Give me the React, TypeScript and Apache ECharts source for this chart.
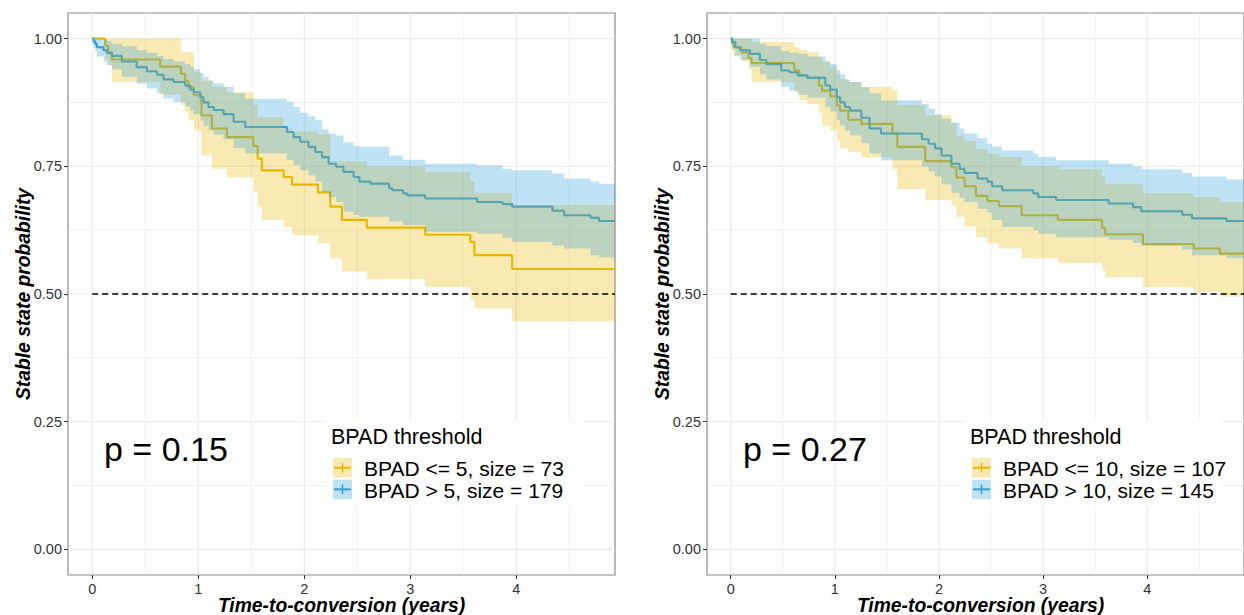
import React, { useEffect, useRef } from "react";
import * as echarts from "echarts";

// ---------- axis ranges / ticks ----------
const XMIN = -0.228;
const XMAX = 4.93;
const YMIN = -0.05;
const YMAX = 1.05;
const xTickValues = [0, 1, 2, 3, 4];
const xMinorValues = [0.5, 1.5, 2.5, 3.5, 4.5];
const yTickValues = [0, 0.25, 0.5, 0.75, 1];
const yMinorValues = [0.125, 0.375, 0.625, 0.875];

// ---------- LEFT PANEL: BPAD <= 5 (n = 73) ----------
const leftLowT = [0, 0.123, 0.15, 0.186, 0.642, 0.837, 0.877, 0.909, 0.96, 1.03, 1.129, 1.27, 1.52, 1.56, 1.6, 1.805, 1.884, 2.13, 2.245, 2.355, 2.59, 3.14, 3.566, 3.604, 3.96];
const leftLowS = [1.0, 0.986, 0.972, 0.959, 0.945, 0.931, 0.917, 0.904, 0.889, 0.85, 0.824, 0.807, 0.79, 0.765, 0.742, 0.729, 0.714, 0.699, 0.671, 0.645, 0.63, 0.616, 0.602, 0.576, 0.549];
const leftLowBandT = [0, 0.123, 0.15, 0.186, 0.642, 0.837, 0.877, 0.909, 0.96, 1.03, 1.129, 1.27, 1.52, 1.56, 1.6, 1.805, 1.884, 2.13, 2.245, 2.355, 2.59, 3.14, 3.566, 3.604, 3.96];
const leftLowBandLo = [1.0, 0.96, 0.947, 0.915, 0.89, 0.87, 0.855, 0.84, 0.82, 0.771, 0.745, 0.728, 0.7, 0.67, 0.645, 0.631, 0.615, 0.6, 0.57, 0.544, 0.529, 0.514, 0.49, 0.472, 0.446];
const leftLowBandHi = [1.0, 1.0, 1.0, 1.0, 1.0, 0.973, 0.973, 0.973, 0.934, 0.918, 0.906, 0.895, 0.87, 0.846, 0.846, 0.824, 0.818, 0.8125, 0.76, 0.76, 0.75, 0.739, 0.72, 0.698, 0.674];

// ---------- LEFT PANEL: BPAD > 5 (n = 179) ----------
const leftHighT = [0, 0.013, 0.03, 0.044, 0.107, 0.14, 0.186, 0.28, 0.42, 0.516, 0.61, 0.673, 0.767, 0.877, 0.925, 0.956, 1.019, 1.05, 1.097, 1.145, 1.239, 1.333, 1.443, 1.836, 1.9, 1.962, 2.04, 2.104, 2.167, 2.23, 2.3, 2.37, 2.465, 2.52, 2.625, 2.8, 2.83, 2.93, 2.97, 3.14, 3.63, 3.87, 3.96, 4.34, 4.45, 4.7, 4.78];
const leftHighS = [1.0, 0.994, 0.989, 0.983, 0.977, 0.972, 0.966, 0.955, 0.944, 0.936, 0.929, 0.92, 0.915, 0.908, 0.9, 0.895, 0.885, 0.875, 0.866, 0.86, 0.852, 0.837, 0.827, 0.817, 0.807, 0.798, 0.788, 0.778, 0.768, 0.755, 0.749, 0.739, 0.729, 0.72, 0.716, 0.707, 0.703, 0.697, 0.693, 0.687, 0.68, 0.676, 0.671, 0.663, 0.654, 0.649, 0.643];
const leftHighBandT = [0, 0.013, 0.03, 0.044, 0.107, 0.14, 0.186, 0.28, 0.42, 0.516, 0.61, 0.673, 0.767, 0.877, 0.925, 0.956, 1.019, 1.05, 1.097, 1.145, 1.239, 1.333, 1.443, 1.836, 1.9, 1.962, 2.04, 2.104, 2.167, 2.23, 2.3, 2.37, 2.465, 2.52, 2.8, 2.93, 3.14, 3.63, 3.87, 3.96, 4.34, 4.45, 4.7, 4.78];
const leftHighBandLo = [1.0, 0.982, 0.975, 0.965, 0.955, 0.948, 0.94, 0.925, 0.912, 0.902, 0.893, 0.882, 0.876, 0.867, 0.858, 0.852, 0.84, 0.829, 0.82, 0.812, 0.803, 0.786, 0.775, 0.763, 0.752, 0.742, 0.732, 0.72, 0.7, 0.69, 0.68, 0.661, 0.655, 0.651, 0.642, 0.635, 0.622, 0.618, 0.61, 0.602, 0.595, 0.589, 0.576, 0.572];
const leftHighBandHi = [1.0, 1.0, 1.0, 1.0, 0.998, 0.995, 0.99, 0.985, 0.977, 0.972, 0.966, 0.96, 0.955, 0.95, 0.945, 0.94, 0.932, 0.925, 0.918, 0.912, 0.905, 0.893, 0.882, 0.876, 0.866, 0.855, 0.848, 0.84, 0.822, 0.814, 0.81, 0.797, 0.79, 0.788, 0.771, 0.763, 0.755, 0.752, 0.745, 0.742, 0.736, 0.726, 0.72, 0.716];

// ---------- RIGHT PANEL: BPAD <= 10 (n = 107) ----------
const rightLowT = [0, 0.013, 0.028, 0.107, 0.17, 0.2, 0.61, 0.658, 0.736, 0.846, 0.877, 0.956, 1.019, 1.05, 1.129, 1.255, 1.554, 1.6, 1.868, 2.12, 2.167, 2.245, 2.355, 2.465, 2.575, 2.795, 3.142, 3.566, 3.597, 3.959, 4.446, 4.698];
const rightLowS = [1.0, 0.99, 0.983, 0.973, 0.962, 0.952, 0.9375, 0.928, 0.923, 0.908, 0.898, 0.887, 0.869, 0.859, 0.841, 0.833, 0.814, 0.788, 0.76, 0.748, 0.728, 0.711, 0.692, 0.682, 0.672, 0.654, 0.645, 0.63, 0.617, 0.598, 0.589, 0.579];
const rightLowBandT = [0, 0.013, 0.028, 0.107, 0.17, 0.2, 0.61, 0.658, 0.736, 0.846, 0.877, 0.956, 1.019, 1.05, 1.129, 1.255, 1.554, 1.6, 1.868, 2.12, 2.167, 2.245, 2.355, 2.465, 2.575, 2.795, 3.142, 3.566, 3.597, 3.959, 4.446, 4.698];
const rightLowBandLo = [1.0, 0.975, 0.965, 0.955, 0.94, 0.915, 0.895, 0.879, 0.872, 0.855, 0.83, 0.82, 0.8, 0.785, 0.778, 0.768, 0.745, 0.705, 0.684, 0.674, 0.651, 0.632, 0.611, 0.599, 0.589, 0.57, 0.561, 0.548, 0.533, 0.513, 0.504, 0.495];
const rightLowBandHi = [1.0, 1.0, 1.0, 1.0, 1.0, 0.993, 0.983, 0.978, 0.973, 0.965, 0.955, 0.944, 0.93, 0.921, 0.915, 0.905, 0.9, 0.87, 0.85, 0.835, 0.81, 0.8, 0.784, 0.775, 0.768, 0.75, 0.744, 0.73, 0.716, 0.697, 0.69, 0.68];

// ---------- RIGHT PANEL: BPAD > 10 (n = 145) ----------
const rightHighT = [0, 0.013, 0.044, 0.09, 0.186, 0.28, 0.343, 0.484, 0.563, 0.642, 0.736, 0.909, 0.956, 1.019, 1.05, 1.097, 1.145, 1.255, 1.333, 1.443, 1.836, 1.9, 1.962, 2.025, 2.12, 2.198, 2.245, 2.37, 2.465, 2.51, 2.607, 2.906, 2.953, 3.126, 3.63, 3.865, 3.943, 4.337, 4.431, 4.761];
const rightHighS = [1.0, 0.993, 0.983, 0.977, 0.97, 0.958, 0.95, 0.9375, 0.934, 0.928, 0.923, 0.908, 0.9, 0.885, 0.875, 0.866, 0.859, 0.845, 0.824, 0.814, 0.803, 0.794, 0.785, 0.771, 0.755, 0.745, 0.737, 0.726, 0.72, 0.711, 0.703, 0.697, 0.69, 0.684, 0.677, 0.67, 0.662, 0.655, 0.648, 0.643];
const rightHighBandT = rightHighT;
const rightHighBandLo = [1.0, 0.98, 0.967, 0.958, 0.945, 0.93, 0.92, 0.905, 0.898, 0.89, 0.884, 0.866, 0.857, 0.84, 0.83, 0.82, 0.81, 0.795, 0.775, 0.762, 0.75, 0.74, 0.73, 0.715, 0.698, 0.688, 0.68, 0.667, 0.66, 0.645, 0.631, 0.625, 0.618, 0.611, 0.606, 0.6, 0.594, 0.587, 0.576, 0.57];
const rightHighBandHi = [1.0, 1.0, 1.0, 1.0, 1.0, 0.99, 0.985, 0.975, 0.972, 0.97, 0.965, 0.955, 0.95, 0.938, 0.93, 0.92, 0.915, 0.905, 0.893, 0.879, 0.872, 0.862, 0.852, 0.843, 0.835, 0.824, 0.814, 0.805, 0.794, 0.788, 0.781, 0.775, 0.768, 0.762, 0.755, 0.75, 0.744, 0.737, 0.73, 0.724];

// ---------- texts ----------
const pTexts = ["p = 0.15", "p = 0.27"];
const legendTitle = "BPAD threshold";
const legendLabels = [
  ["BPAD <= 5, size = 73", "BPAD > 5, size = 179"],
  ["BPAD <= 10, size = 107", "BPAD > 10, size = 145"],
];
const xTitle = "Time-to-conversion (years)";
const yTitle = "Stable state probability";

// ---------- style ----------
const FONT = '"Liberation Sans", Arial, Helvetica, sans-serif';
const YELLOW = "#E7B800";
const BLUE = "#2E9FDF";
const YELLOW_FILL = "rgba(231,184,0,0.3)";
const BLUE_FILL = "rgba(46,159,223,0.3)";
const GRID_W = 547;
const GRID_H = 562;
const GRID_TOP = 13;
const PANEL_LEFTS = [68, 707];

function stepData(T: number[], S: number[]) {
  const d = T.map((t, i) => [t, S[i]]);
  d.push([XMAX, S[S.length - 1]]);
  return d;
}

function bandSeries(idx: number, T: number[], LO: number[], HI: number[], fill: string, z: number) {
  return {
    type: "custom",
    xAxisIndex: idx,
    yAxisIndex: idx,
    silent: true,
    z,
    data: [[T[0], HI[0]]],
    renderItem: (_p: any, api: any) => {
      const pts: number[][] = [];
      for (let i = 0; i < T.length; i++) {
        const t1 = i + 1 < T.length ? T[i + 1] : XMAX;
        pts.push(api.coord([T[i], HI[i]]));
        pts.push(api.coord([t1, HI[i]]));
      }
      for (let i = T.length - 1; i >= 0; i--) {
        const t1 = i + 1 < T.length ? T[i + 1] : XMAX;
        pts.push(api.coord([t1, LO[i]]));
        pts.push(api.coord([T[i], LO[i]]));
      }
      return { type: "polygon", shape: { points: pts }, style: { fill, stroke: "none" } };
    },
  };
}

function gridLineSeries(idx: number) {
  return {
    type: "custom",
    xAxisIndex: idx,
    yAxisIndex: idx,
    silent: true,
    z: 0,
    data: [[0, 0]],
    renderItem: (_p: any, api: any) => {
      const children: any[] = [];
      const vline = (v: number, w: number) => {
        const a = api.coord([v, YMIN]);
        const b = api.coord([v, YMAX]);
        children.push({ type: "line", shape: { x1: a[0], y1: a[1], x2: b[0], y2: b[1] }, style: { stroke: "#EBEBEB", lineWidth: w } });
      };
      const hline = (v: number, w: number) => {
        const a = api.coord([XMIN, v]);
        const b = api.coord([XMAX, v]);
        children.push({ type: "line", shape: { x1: a[0], y1: a[1], x2: b[0], y2: b[1] }, style: { stroke: "#EBEBEB", lineWidth: w } });
      };
      xMinorValues.forEach((v) => vline(v, 0.7));
      yMinorValues.forEach((v) => hline(v, 0.7));
      xTickValues.forEach((v) => vline(v, 1.2));
      yTickValues.forEach((v) => hline(v, 1.2));
      return { type: "group", children };
    },
  };
}

function lineSeries(idx: number, T: number[], S: number[], color: string) {
  return {
    type: "line",
    xAxisIndex: idx,
    yAxisIndex: idx,
    step: "end",
    symbol: "none",
    silent: true,
    z: 2,
    data: stepData(T, S),
    lineStyle: { color, width: 2.1 },
  };
}

function medianSeries(idx: number) {
  return {
    type: "line",
    xAxisIndex: idx,
    yAxisIndex: idx,
    symbol: "none",
    silent: true,
    z: 6,
    data: [
      [0, 0.5],
      [XMAX, 0.5],
    ],
    lineStyle: { color: "#000", width: 1.3, type: [6, 4] },
  };
}

function legendGraphics(p: number) {
  const left = PANEL_LEFTS[p];
  const pLeft = left + 36;
  const lgX = left + 263;
  const els: any[] = [];
  els.push({ type: "rect", z: 50, shape: { x: lgX - 6, y: 420, width: 258, height: 86 }, style: { fill: "#ffffff" } });
  els.push({
    type: "text",
    z: 51,
    x: pLeft,
    y: 449,
    style: { text: pTexts[p], font: `34px ${FONT}`, fill: "#000", textAlign: "left", textVerticalAlign: "middle" },
  });
  els.push({
    type: "text",
    z: 51,
    x: lgX,
    y: 437,
    style: { text: legendTitle, font: `21.5px ${FONT}`, fill: "#000", textAlign: "left", textVerticalAlign: "middle" },
  });
  const fills = [YELLOW_FILL, BLUE_FILL];
  const cols = [YELLOW, BLUE];
  [0, 1].forEach((k) => {
    const ky = 458 + k * 21.6;
    const kx = lgX + 2;
    els.push({ type: "rect", z: 51, shape: { x: kx, y: ky, width: 19, height: 19.5 }, style: { fill: fills[k] } });
    els.push({ type: "line", z: 52, shape: { x1: kx + 1, y1: ky + 9.75, x2: kx + 18, y2: ky + 9.75 }, style: { stroke: cols[k], lineWidth: 2 } });
    els.push({ type: "line", z: 52, shape: { x1: kx + 9.5, y1: ky + 5, x2: kx + 9.5, y2: ky + 14.5 }, style: { stroke: cols[k], lineWidth: 1.5 } });
    els.push({
      type: "text",
      z: 51,
      x: kx + 31,
      y: ky + 10.5,
      style: { text: legendLabels[p][k], font: `21px ${FONT}`, fill: "#000", textAlign: "left", textVerticalAlign: "middle" },
    });
  });
  els.push({
    type: "text",
    z: 51,
    x: left + GRID_W / 2,
    y: 605,
    style: { text: xTitle, font: `italic bold 19.3px ${FONT}`, fill: "#000", textAlign: "center", textVerticalAlign: "middle" },
  });
  els.push({
    type: "text",
    z: 51,
    x: left - 45,
    y: GRID_TOP + GRID_H / 2,
    rotation: Math.PI / 2,
    style: { text: yTitle, font: `italic bold 19.3px ${FONT}`, fill: "#000", textAlign: "center", textVerticalAlign: "middle" },
  });
  return els;
}

function makeAxes(idx: number) {
  const x = {
    type: "value",
    gridIndex: idx,
    min: XMIN,
    max: XMAX,
    splitLine: { show: false },
    axisLine: { show: false, onZero: false },
    axisTick: { show: true, customValues: xTickValues, length: 4, lineStyle: { color: "#333", width: 1 } },
    axisLabel: {
      customValues: xTickValues,
      formatter: (v: number) => String(v),
      color: "#333",
      fontSize: 14.5,
      fontFamily: FONT,
      margin: 6,
    },
  };
  const y = {
    type: "value",
    gridIndex: idx,
    min: YMIN,
    max: YMAX,
    splitLine: { show: false },
    axisLine: { show: false, onZero: false },
    axisTick: { show: true, customValues: yTickValues, length: 4, lineStyle: { color: "#333", width: 1 } },
    axisLabel: {
      customValues: yTickValues,
      formatter: (v: number) => v.toFixed(2),
      color: "#333",
      fontSize: 14.5,
      fontFamily: FONT,
      margin: 6,
    },
  };
  return { x, y };
}

export default function App() {
  const ref = useRef<HTMLDivElement>(null);
  useEffect(() => {
    if (!ref.current) return;
    const chart = echarts.init(ref.current, undefined, { renderer: "svg" });
    const a0 = makeAxes(0);
    const a1 = makeAxes(1);
    const option = {
      animation: false,
      backgroundColor: "#ffffff",
      grid: PANEL_LEFTS.map((l) => ({
        left: l,
        top: GRID_TOP,
        width: GRID_W,
        height: GRID_H,
        show: true,
        borderColor: "#8a8a8a",
        borderWidth: 1.2,
        backgroundColor: "transparent",
        containLabel: false,
      })),
      xAxis: [a0.x, a1.x],
      yAxis: [a0.y, a1.y],
      series: [
        gridLineSeries(0),
        gridLineSeries(1),
        lineSeries(0, leftLowT, leftLowS, YELLOW),
        lineSeries(0, leftHighT, leftHighS, BLUE),
        lineSeries(1, rightLowT, rightLowS, YELLOW),
        lineSeries(1, rightHighT, rightHighS, BLUE),
        bandSeries(0, leftLowBandT, leftLowBandLo, leftLowBandHi, YELLOW_FILL, 3),
        bandSeries(0, leftHighBandT, leftHighBandLo, leftHighBandHi, BLUE_FILL, 4),
        bandSeries(1, rightLowBandT, rightLowBandLo, rightLowBandHi, YELLOW_FILL, 3),
        bandSeries(1, rightHighBandT, rightHighBandLo, rightHighBandHi, BLUE_FILL, 4),
        medianSeries(0),
        medianSeries(1),
      ],
      graphic: [...legendGraphics(0), ...legendGraphics(1)],
    };
    chart.setOption(option as any);
    return () => chart.dispose();
  }, []);
  return <div ref={ref} style={{ position: "absolute", left: 0, top: 0, width: 1244, height: 615 }} />;
}
